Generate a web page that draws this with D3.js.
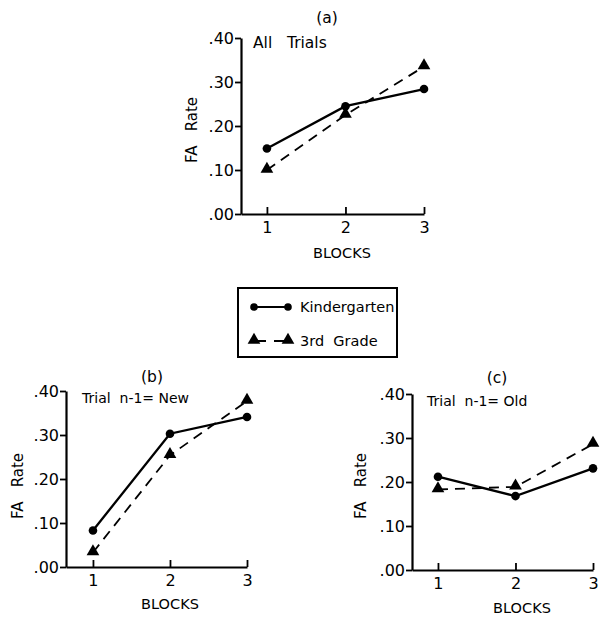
<!DOCTYPE html>
<html>
<head>
<meta charset="utf-8">
<script src="https://cdn.jsdelivr.net/npm/d3@7"></script>
<style>
  body { margin: 0; background: #fff; }
  svg text { font-family: 'DejaVu Sans', sans-serif; fill: #000; }
</style>
</head>
<body>
<svg width="603" height="618"></svg>
<script>
// Data (FA rate per block)
const blocks = [1, 2, 3];
const yTicks = [0, 0.1, 0.2, 0.3, 0.4];
const seriesNames = ['Kindergarten', '3rd  Grade'];
const panelTitles = ['(a)', '(b)', '(c)'];
const panelNotes = ['All   Trials', 'Trial  n-1= New', 'Trial  n-1= Old'];
const kinderA = [0.149, 0.245, 0.284];
const thirdA = [0.100, 0.225, 0.335];
const kinderB = [0.083, 0.303, 0.341];
const thirdB = [0.033, 0.254, 0.377];
const kinderC = [0.212, 0.168, 0.231];
const thirdC = [0.183, 0.189, 0.286];

const svg = d3.select('svg');

// Panel geometry (pixel boxes of each small chart)
const panels = [
  { x0: 241, x3: 424, xMin: 0.67, y0: 214, y4: 38, kinder: kinderA, third: thirdA,
    title: [327, 18], note: [253, 43], noteSize: 15.5, ylab: [192, 130], xlab: [342, 253] },
  { x0: 66, x3: 247, xMin: 0.65, y0: 567, y4: 391, kinder: kinderB, third: thirdB,
    title: [152, 377], note: [82, 398], noteSize: 14, ylab: [18, 486], xlab: [170, 604] },
  { x0: 412, x3: 593, xMin: 0.665, y0: 570, y4: 394, kinder: kinderC, third: thirdC,
    title: [497, 378], note: [427, 401], noteSize: 14, ylab: [361, 486], xlab: [522, 608] },
];

const triangle = d3.symbol().type(d3.symbolTriangle).size(70);

panels.forEach((p, i) => {
  const x = d3.scaleLinear().domain([p.xMin, 3]).range([p.x0, p.x3]);
  const y = d3.scaleLinear().domain([0, 0.4]).range([p.y0, p.y4]);
  const g = svg.append('g');

  // Axes
  const xAxis = d3.axisBottom(x).tickValues(blocks).tickSizeInner(-7).tickSizeOuter(0)
    .tickPadding(8).tickFormat(d3.format('d'));
  const yAxis = d3.axisLeft(y).tickValues(yTicks).tickSizeInner(6).tickSizeOuter(0)
    .tickPadding(1).tickFormat((d) => d3.format('.2f')(d).replace(/^0/, ''));

  const gx = g.append('g').attr('transform', `translate(0,${p.y0})`).call(xAxis);
  const gy = g.append('g').attr('transform', `translate(${p.x0},0)`).call(yAxis);
  [gx, gy].forEach((a) => {
    a.select('.domain').attr('stroke-width', 2.2);
    a.selectAll('.tick line').attr('stroke-width', 1.8);
    a.selectAll('.tick text').style('font-size', '16px');
  });
  gy.selectAll('.tick text').attr('dy', '0.36em');

  // Lines
  const line = (vals) => d3.line()
    .x((d, j) => x(blocks[j]))
    .y((d) => y(d))(vals);

  g.append('path').attr('d', line(p.third))
    .attr('fill', 'none').attr('stroke', '#000').attr('stroke-width', 1.8)
    .attr('stroke-dasharray', '10,7');
  g.append('path').attr('d', line(p.kinder))
    .attr('fill', 'none').attr('stroke', '#000').attr('stroke-width', 2.3);

  // Markers
  g.selectAll('.kdot').data(p.kinder).enter().append('circle')
    .attr('cx', (d, j) => x(blocks[j]))
    .attr('cy', (d) => y(d))
    .attr('r', 4.3);
  g.selectAll('.tri').data(p.third).enter().append('path')
    .attr('d', triangle)
    .attr('transform', (d, j) => `translate(${x(blocks[j])},${y(d) - 1})`);

  // Labels
  g.append('text').attr('x', p.title[0]).attr('y', p.title[1]).attr('dy', '0.35em')
    .attr('text-anchor', 'middle').style('font-size', '15.5px').text(panelTitles[i]);
  g.append('text').attr('x', p.note[0]).attr('y', p.note[1]).attr('dy', '0.35em')
    .style('font-size', `${p.noteSize}px`).style('white-space', 'pre').text(panelNotes[i]);
  g.append('text').attr('transform', `translate(${p.ylab[0]},${p.ylab[1]}) rotate(-90)`)
    .attr('dy', '0.35em').attr('text-anchor', 'middle').style('font-size', '15px')
    .style('white-space', 'pre').text('FA   Rate');
  g.append('text').attr('x', p.xlab[0]).attr('y', p.xlab[1]).attr('dy', '0.35em')
    .attr('text-anchor', 'middle').style('font-size', '14.5px').text('BLOCKS');
});

// Legend
const legend = svg.append('g').attr('transform', 'translate(238,288)');
legend.append('rect').attr('width', 159).attr('height', 69)
  .attr('fill', 'none').attr('stroke', '#000').attr('stroke-width', 2);

legend.append('line').attr('x1', 16).attr('x2', 50).attr('y1', 19).attr('y2', 19)
  .attr('stroke', '#000').attr('stroke-width', 2);
[16, 50].forEach((cx) => legend.append('circle').attr('cx', cx).attr('cy', 19).attr('r', 3.8));
legend.append('line').attr('x1', 16).attr('x2', 50).attr('y1', 53).attr('y2', 53)
  .attr('stroke', '#000').attr('stroke-width', 1.8).attr('stroke-dasharray', '12,8');
[16, 50].forEach((cx) => legend.append('path').attr('d', triangle)
  .attr('transform', `translate(${cx},52)`));

seriesNames.forEach((name, i) => {
  legend.append('text').attr('x', 62).attr('y', 19 + i * 34).attr('dy', '0.35em')
    .style('font-size', '14.5px').style('white-space', 'pre').text(name);
});
</script>
</body>
</html>
